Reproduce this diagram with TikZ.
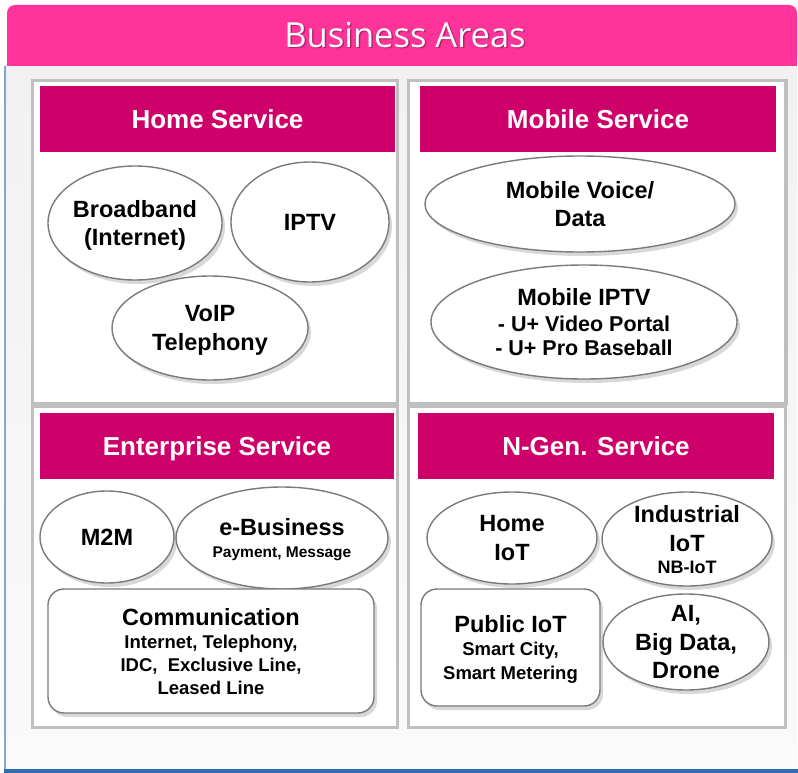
\documentclass[tikz,border=0pt]{standalone}
\usepackage{fontspec}
\setmainfont{Liberation Sans}
\newfontfamily\titlefont{Open Sans}
\usetikzlibrary{shapes.geometric}
\usetikzlibrary{shadows}
\definecolor{headpink}{HTML}{FF3399}
\definecolor{barpink}{HTML}{CE0069}
\definecolor{quadgray}{HTML}{BFBFBF}
\definecolor{ovalgray}{HTML}{7A7A7A}
\definecolor{edgeblue}{HTML}{2F6DB5}
\definecolor{titleshade}{HTML}{7A1A4A}
\newcommand{\bigtxt}{\fontsize{23.5}{28.5}\selectfont\bfseries}
\newcommand{\subtxt}[1]{\fontsize{#1}{#1}\selectfont}
\tikzset{quad/.style = {draw = quadgray, line width = 3.5, fill = white}}
\tikzset{bar/.style = {fill = barpink, text = white, inner sep = 0, font = \fontsize{26}{30}\selectfont\bfseries, text height = 19pt, text depth = 0pt}}
\tikzset{oval/.style = {ellipse, draw = ovalgray, line width = 1.4, fill = white, inner sep = 0, align = center, text depth = 0pt, font = \bigtxt, drop shadow = {shadow xshift = 3pt, shadow yshift = -4pt, opacity = 0.3}}}
\tikzset{roundbox/.style = {oval, rectangle, rounded corners = 16}}
\tikzset{title/.style = {text = white, inner sep = 0, font = \titlefont\fontsize{34.5}{40}\selectfont}}

\begin{document}
\begin{tikzpicture}[x = 1pt, y = -1pt]

    \useasboundingbox (0, 0) rectangle (798, 773);

    \shade [top color = gray!11, bottom color = gray!4] (5, 66) rectangle (797, 771);
    \draw [edgeblue!60, line width = 1.5] (5, 66) -- (5, 770);
    \draw [edgeblue, line width = 4] (4, 771) -- (798, 771);

    \fill [headpink, rounded corners = 8] (7, 5) rectangle (797, 66);
    \fill [headpink] (7, 40) rectangle (797, 66);
    \node [title, text = titleshade, opacity = 0.6] (titleshadow) at (406.5, 36.5) {Business Areas};
    \node [title] (titletext) at (405, 35) {Business Areas};

    \draw [quad] (32.5, 80.5) rectangle (397.5, 403.5);
    \draw [quad] (408.5, 80.5) rectangle (786, 403.5);
    \draw [quad] (32.5, 406.5) rectangle (397.5, 727.5);
    \draw [quad] (408.5, 406.5) rectangle (785.5, 727.5);

    \node [bar, minimum width = 355, minimum height = 66] (homebar) at (217.5, 119) {Home Service};
    \node [bar, minimum width = 356, minimum height = 66] (mobilebar) at (598, 119) {Mobile Service};
    \node [bar, minimum width = 354, minimum height = 66] (enterprisebar) at (217, 446) {Enterprise Service};
    \node [bar, minimum width = 356, minimum height = 66] (ngenbar) at (596, 446) {N-Gen. Service};

    \node [oval, inner sep = -2, minimum width = 174, minimum height = 114] (broadband) at (135, 223) {Broadband\\(Internet)};
    \node [oval, minimum width = 158, minimum height = 120] (iptv) at (310, 222) {IPTV};
    \node [oval, minimum width = 196, minimum height = 104] (voip) at (210, 328) {VoIP\\Telephony};

    \node [oval, minimum width = 310, minimum height = 96] (mobilevoice) at (580, 204) {Mobile Voice/\\Data};
    \node [oval, minimum width = 306, minimum height = 114] (mobileiptv) at (584, 322) {Mobile IPTV\\[-2.5pt]{\subtxt{21.5}- U+ Video Portal}\\[-4.5pt]{\subtxt{21.5}- U+ Pro Baseball}};

    \node [oval, minimum width = 134, minimum height = 92] (m2m) at (107, 537) {M2M};
    \node [oval, minimum width = 212, minimum height = 102] (ebusiness) at (282, 538) {e-Business\\[-6.5pt]{\subtxt{15.5}Payment, Message}};
    \node [roundbox, minimum width = 326, minimum height = 124] (communication) at (211, 651) {Communication\\[-5.5pt]{\subtxt{18.5}Internet, Telephony,}\\[-5.5pt]{\subtxt{18.5}IDC,~ Exclusive Line,}\\[-5.5pt]{\subtxt{18.5}Leased Line}};

    \node [oval, minimum width = 170, minimum height = 92] (homeiot) at (512, 538) {Home\\IoT};
    \node [oval, inner sep = -4, minimum width = 170, minimum height = 94] (industrialiot) at (687, 539) {Industrial\\[0.5pt]IoT\\[-6.5pt]{\subtxt{18}NB-IoT}};
    \node [roundbox, minimum width = 179, minimum height = 117] (publiciot) at (510.5, 647.5) {Public IoT\\[-5.5pt]{\subtxt{18.5}Smart City,}\\[-4.5pt]{\subtxt{18.5}Smart Metering}};
    \node [oval, inner sep = -7, minimum width = 166, minimum height = 96] (aibigdata) at (686, 642) {AI,\\Big Data,\\Drone};
  \end{tikzpicture}
\end{document}
